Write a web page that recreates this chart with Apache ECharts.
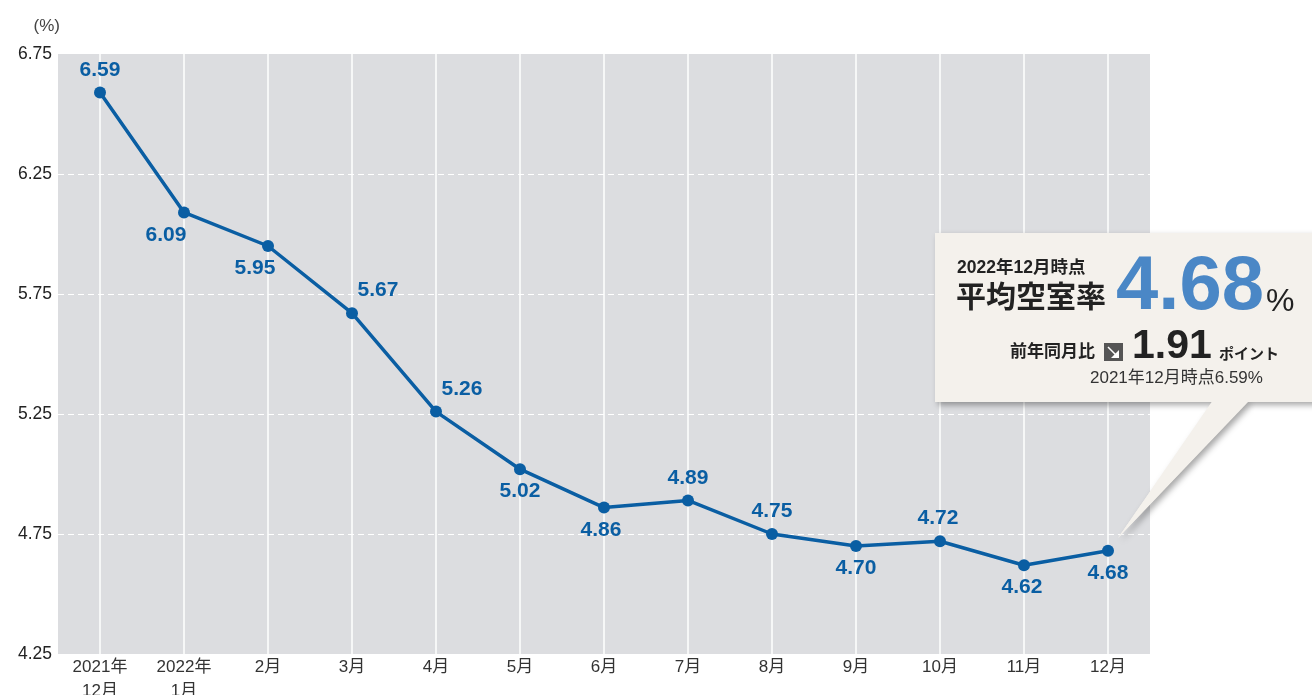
<!DOCTYPE html>
<html><head><meta charset="utf-8">
<script src="https://cdn.jsdelivr.net/npm/echarts@6/dist/echarts.min.js"></script>
<style>html,body{margin:0;padding:0;background:#fff}#c{width:1312px;height:695px}</style>
</head><body><div id="c"></div>
<script>
var categories = ['2021年\n12月','2022年\n1月','2月','3月','4月','5月','6月','7月','8月','9月','10月','11月','12月'];
var values = [6.59, 6.09, 5.95, 5.67, 5.26, 5.02, 4.86, 4.89, 4.75, 4.70, 4.72, 4.62, 4.68];
var labelPos = ['top','bottom','bottom','top','top','bottom','bottom','top','top','bottom','top','bottom','bottom'];
var labelShift = [0,-18,-13,26,26,0,-3,0,0,0,-2,-2,0];
var yMin = 4.25, yMax = 6.75, yStep = 0.5;

var BLUE = '#0a5ea3';
var CJK = '"Liberation Sans","Noto Sans CJK JP",sans-serif';
var chart = echarts.init(document.getElementById('c'));
var seriesData = values.map(function(v,i){
  return {value:v, label:{position:labelPos[i], offset:[labelShift[i],0]}};
});
var BOX = '#f4f1ec';
var shadow = {shadowBlur:6, shadowOffsetX:3, shadowOffsetY:3, shadowColor:'rgba(0,0,0,0.35)'};
var T = 'rgba(255,255,255,0)';
chart.setOption({
  animation:false,
  textStyle:{fontFamily:CJK},
  grid:{left:58, right:162, top:54, bottom:41, show:true, backgroundColor:'#dcdde0', borderWidth:0,
    outerBoundsMode:'none', containLabel:false},
  xAxis:{type:'category', data:categories, boundaryGap:true,
    axisLine:{show:false}, axisTick:{show:false},
    axisLabel:{color:'#333', fontSize:17, margin:1, lineHeight:24, interval:0},
    splitLine:{show:true, alignWithLabel:true, interval:0, lineStyle:{color:'#ffffff', width:1.5}}},
  yAxis:{type:'value', min:yMin, max:yMax, interval:yStep,
    name:'(%)', nameLocation:'end', nameGap:19,
    nameTextStyle:{color:'#444', fontSize:17, align:'right', padding:[0,-2,0,0]},
    axisLine:{show:false}, axisTick:{show:false},
    axisLabel:{color:'#222', fontSize:17.5, margin:6, formatter:function(v){return v.toFixed(2);}},
    splitLine:{show:true, lineStyle:{color:[T,'#fff','#fff','#fff','#fff',T], width:1, type:[6,4]}}},
  series:[{type:'line', data:seriesData, symbol:'circle', symbolSize:12,
    lineStyle:{color:BLUE, width:3.5}, itemStyle:{color:BLUE},
    label:{show:true, color:BLUE, fontSize:21, fontWeight:'bold', distance:6,
      fontFamily:'"Liberation Sans",Arial,sans-serif', formatter:function(p){return p.value.toFixed(2);}}}],
  graphic:[
    {type:'rect', z:100, shape:{x:935, y:233, width:390, height:169}, style:Object.assign({fill:BOX}, shadow)},
    {type:'polygon', z:100, shape:{points:[[1213,401],[1249,401],[1118,538]]}, style:Object.assign({fill:BOX}, shadow)},
    {type:'rect', z:101, shape:{x:935, y:233, width:390, height:169}, style:{fill:BOX}},
    {type:'polygon', z:101, shape:{points:[[1213,400],[1249,400],[1118,538]]}, style:{fill:BOX}},
    {type:'text', z:102, x:957, y:268, style:{text:'2022年12月時点', font:'bold 17.5px '+CJK, fill:'#222', textVerticalAlign:'middle'}},
    {type:'text', z:102, x:956, y:299, style:{text:'平均空室率', font:'bold 30px '+CJK, fill:'#222', textVerticalAlign:'middle'}},
    {type:'text', z:102, x:1116, y:326, style:{text:'4.68', font:'bold 76px "Liberation Sans",Arial,sans-serif', fill:'#4a87c6', textVerticalAlign:'bottom'}},
    {type:'text', z:102, x:1266, y:318, style:{text:'%', font:'32px "Liberation Sans",Arial,sans-serif', fill:'#222', textVerticalAlign:'bottom'}},
    {type:'text', z:102, x:1010, y:352, style:{text:'前年同月比', font:'bold 17px '+CJK, fill:'#222', textVerticalAlign:'middle'}},
    {type:'rect', z:102, shape:{x:1104, y:343, width:19, height:18}, style:{fill:'#555'}},
    {type:'line', z:103, shape:{x1:1108, y1:347, x2:1117, y2:356}, style:{stroke:'#fff', lineWidth:1.5}},
    {type:'polygon', z:103, shape:{points:[[1119,350],[1119,358],[1111,358]]}, style:{fill:'#fff'}},
    {type:'text', z:102, x:1132, y:367, style:{text:'1.91', font:'bold 41px "Liberation Sans",Arial,sans-serif', fill:'#222', textVerticalAlign:'bottom'}},
    {type:'text', z:102, x:1219, y:355, style:{text:'ポイント', font:'bold 15px '+CJK, fill:'#222', textVerticalAlign:'middle'}},
    {type:'text', z:102, x:1090, y:378, style:{text:'2021年12月時点6.59%', font:'17px '+CJK, fill:'#333', textVerticalAlign:'middle'}}
  ]
});
</script></body></html>
